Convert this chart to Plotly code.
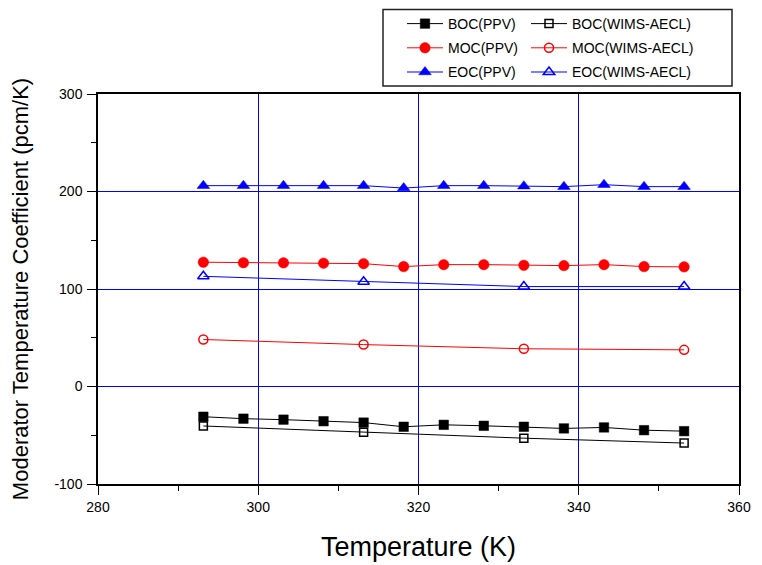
import plotly.graph_objects as go

temp_ppv = [293.15, 298.15, 303.15, 308.15, 313.15, 318.15, 323.15, 328.15, 333.15, 338.15, 343.15, 348.15, 353.15]
temp_wims = [293.15, 313.15, 333.15, 353.15]

boc_ppv = [-31, -33, -34, -35.6, -37, -41.3, -39.3, -40.3, -41.3, -43, -42, -44.8, -45.8]
moc_ppv = [127.5, 127, 126.8, 126.5, 126, 123, 125, 125, 124.3, 124, 125, 123, 122.7]
eoc_ppv = [206, 206, 206, 206, 206, 203.5, 206, 206, 205.5, 205, 207, 205, 205]

boc_wims = [-40.5, -46.8, -53, -58]
moc_wims = [48.2, 43, 38.7, 37.6]
eoc_wims = [113, 107.5, 102.5, 102.5]

x_ticks = [280, 300, 320, 340, 360]
y_ticks = [-100, 0, 100, 200, 300]

FONT = "Liberation Sans, Arial, sans-serif"

fig = go.Figure()

def add(x, y, name, color, symbol, size, legend, group):
    open_ = symbol.endswith("-open")
    fig.add_trace(go.Scatter(
        x=x, y=y, name=name, mode="lines+markers",
        line=dict(color=color, width=1),
        marker=dict(symbol=symbol, size=size, color=color,
                    line=dict(color=color, width=1.5 if open_ else 0.5)),
        legend=legend, legendgroup=group,
    ))

add(temp_ppv, boc_ppv, "BOC(PPV)", "black", "square", 9.5, "legend", "a")
add(temp_ppv, moc_ppv, "MOC(PPV)", "red", "circle", 10.5, "legend", "b")
add(temp_ppv, eoc_ppv, "EOC(PPV)", "blue", "triangle-up", 11, "legend", "c")
add(temp_wims, boc_wims, "BOC(WIMS-AECL)", "black", "square-open", 8, "legend2", "d")
add(temp_wims, moc_wims, "MOC(WIMS-AECL)", "red", "circle-open", 9, "legend2", "e")
add(temp_wims, eoc_wims, "EOC(WIMS-AECL)", "blue", "triangle-up-open", 10, "legend2", "f")

# page body has an 8px margin; lay the figure out so the picture lands on target pixels
OFF = 8
W, H = 762 - OFF, 565 - OFF
L, R, T, B = 98 - OFF, 23, 94 - OFF, 81
pw, ph = W - L - R, H - T - B

def px_x(p):  # screen px -> paper x
    return (p - OFF - L) / pw

def px_y(p):  # screen px -> paper y
    return 1 + (T - (p - OFF)) / ph

leg_common = dict(
    font=dict(family=FONT, size=14, color="black"),
    bgcolor="rgba(0,0,0,0)", borderwidth=0,
    orientation="v", xanchor="left", yanchor="top",
    tracegroupgap=3, itemwidth=36,
)

fig.update_layout(
    width=W, height=H,
    margin=dict(l=L, r=R, t=T, b=B, autoexpand=False),
    paper_bgcolor="white", plot_bgcolor="white",
    font=dict(family=FONT, size=14, color="black"),
    showlegend=True,
    legend=dict(x=px_x(402), y=px_y(8), **leg_common),
    legend2=dict(x=px_x(526), y=px_y(8), **leg_common),
    xaxis=dict(
        range=[280, 360], tickvals=x_ticks, ticktext=[str(v) for v in x_ticks],
        showgrid=True, gridcolor="blue", gridwidth=1,
        showline=True, linecolor="black", linewidth=1.5, mirror=True,
        ticks="outside", ticklen=9, tickwidth=1.2, tickcolor="black",
        minor=dict(dtick=10, ticks="outside", ticklen=5, tickcolor="black", tickwidth=1, showgrid=False),
        zeroline=False,
        tickfont=dict(family=FONT, size=14, color="black"),
        title=dict(text="Temperature (K)", font=dict(family=FONT, size=27, color="black"), standoff=24),
    ),
    yaxis=dict(
        range=[-100, 300], tickvals=y_ticks, ticktext=[str(v) for v in y_ticks],
        showgrid=True, gridcolor="blue", gridwidth=1,
        showline=True, linecolor="black", linewidth=1.5, mirror=True,
        ticks="outside", ticklen=9, tickwidth=1.2, tickcolor="black",
        minor=dict(dtick=50, ticks="outside", ticklen=5, tickcolor="black", tickwidth=1, showgrid=False),
        zeroline=False, ticklabelstandoff=2,
        tickfont=dict(family=FONT, size=14, color="black"),
        title=dict(text="Moderator Temperature Coefficient (pcm/K)", font=dict(family=FONT, size=22, color="black"), standoff=20),
    ),
    shapes=[dict(
        type="rect", xref="paper", yref="paper",
        x0=px_x(383), x1=px_x(732), y0=px_y(86), y1=px_y(9.5),
        line=dict(color="#222222", width=1.5), fillcolor="rgba(0,0,0,0)", layer="above",
    )],
)

fig.write_html("out.html")
